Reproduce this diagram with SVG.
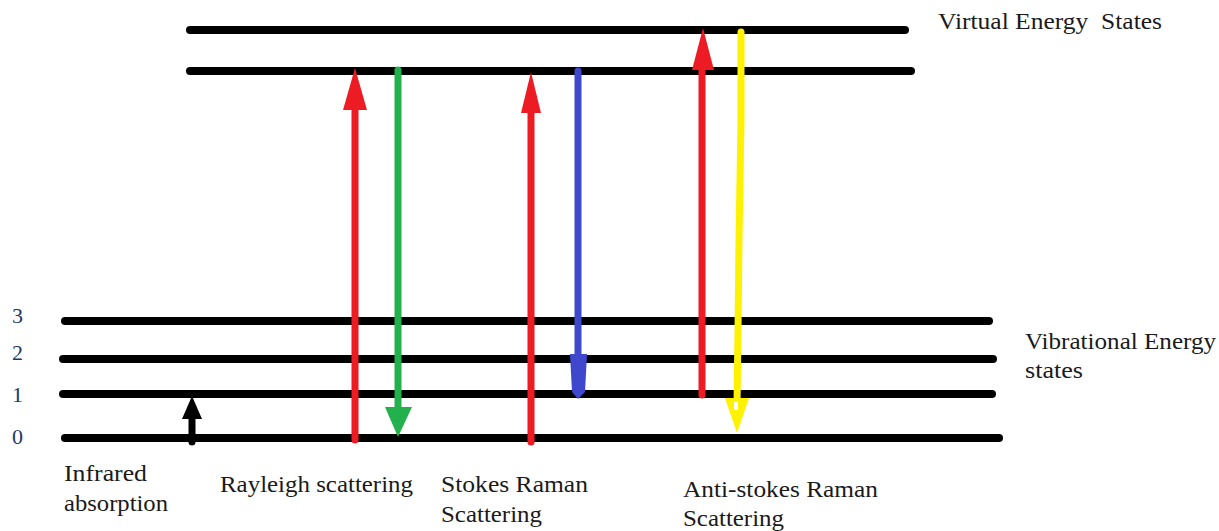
<svg xmlns="http://www.w3.org/2000/svg" width="1219" height="531" viewBox="0 0 1219 531">
<style>
.lvl{stroke:#000;stroke-width:8;stroke-linecap:round;fill:none}
.sh{stroke-width:7;stroke-linecap:round;fill:none}
.t{font-family:"Liberation Serif",serif;font-size:24px;fill:#1a1a1a}
.n{font-family:"Liberation Serif",serif;font-size:22px;fill:#1f3864}
</style>
<rect width="1219" height="531" fill="#fff"/>
<g id="levels">
<line class="lvl" x1="190" y1="30" x2="905" y2="30"/>
<line class="lvl" x1="190" y1="71" x2="911" y2="71"/>
<line class="lvl" x1="65" y1="321" x2="989" y2="321"/>
<line class="lvl" x1="63" y1="359" x2="993" y2="359"/>
<line class="lvl" x1="63" y1="394" x2="992" y2="394"/>
<line class="lvl" x1="65" y1="438" x2="999" y2="438"/>
</g>
<g id="connectors">
<g id="ir">
<line class="sh" stroke="#000" x1="192" y1="442" x2="192" y2="410"/>
<polygon fill="#000" points="192,396 182,419 202,419"/>
</g>
<g id="rayleigh-up">
<line class="sh" stroke="#ed1c24" x1="355" y1="440" x2="355" y2="100"/>
<polygon fill="#ed1c24" points="355,68 343,110 367,110"/>
</g>
<g id="rayleigh-down">
<line class="sh" stroke="#22b14c" x1="398" y1="70" x2="398" y2="410"/>
<polygon fill="#22b14c" points="398,437 385,407 412,407"/>
</g>
<g id="stokes-up">
<line class="sh" stroke="#ed1c24" x1="531" y1="442" x2="531" y2="100"/>
<polygon fill="#ed1c24" points="531,72 521,113 541,113"/>
</g>
<g id="stokes-down">
<line class="sh" stroke="#3f48cc" x1="578" y1="71" x2="578" y2="370"/>
<polygon fill="#3f48cc" points="578,399 572,392 570,354 587,354 585,392"/>
</g>
<g id="anti-up">
<line class="sh" stroke="#ed1c24" x1="702" y1="395" x2="702" y2="55"/>
<polygon fill="#ed1c24" points="703,28 692,70 714,70"/>
</g>
<g id="anti-down">
<polyline class="sh" stroke="#fff200" points="741,32 741,120 739,240 738,330 737,405"/>
<polygon fill="#fff200" points="737,433 725,398 749,398"/>
<rect x="734" y="402" width="4" height="8" fill="#fff"/>
</g>
</g>
<g id="labels">
<text class="t" x="938" y="29" textLength="224" lengthAdjust="spacingAndGlyphs" xml:space="preserve">Virtual Energy  States</text>
<text class="t" x="1025" y="349" textLength="191" lengthAdjust="spacingAndGlyphs">Vibrational Energy</text>
<text class="t" x="1025" y="378" textLength="58" lengthAdjust="spacingAndGlyphs">states</text>
<text class="n" x="12" y="323">3</text>
<text class="n" x="12" y="360">2</text>
<text class="n" x="12" y="402">1</text>
<text class="n" x="12" y="444">0</text>
<text class="t" x="64" y="481" textLength="83" lengthAdjust="spacingAndGlyphs">Infrared</text>
<text class="t" x="64" y="511" textLength="104" lengthAdjust="spacingAndGlyphs">absorption</text>
<text class="t" x="220" y="492" textLength="193" lengthAdjust="spacingAndGlyphs">Rayleigh scattering</text>
<text class="t" x="441" y="492" textLength="147" lengthAdjust="spacingAndGlyphs">Stokes Raman</text>
<text class="t" x="441" y="522" textLength="101" lengthAdjust="spacingAndGlyphs">Scattering</text>
<text class="t" x="683" y="497" textLength="195" lengthAdjust="spacingAndGlyphs">Anti-stokes Raman</text>
<text class="t" x="683" y="526" textLength="101" lengthAdjust="spacingAndGlyphs">Scattering</text>
</g>
</svg>
